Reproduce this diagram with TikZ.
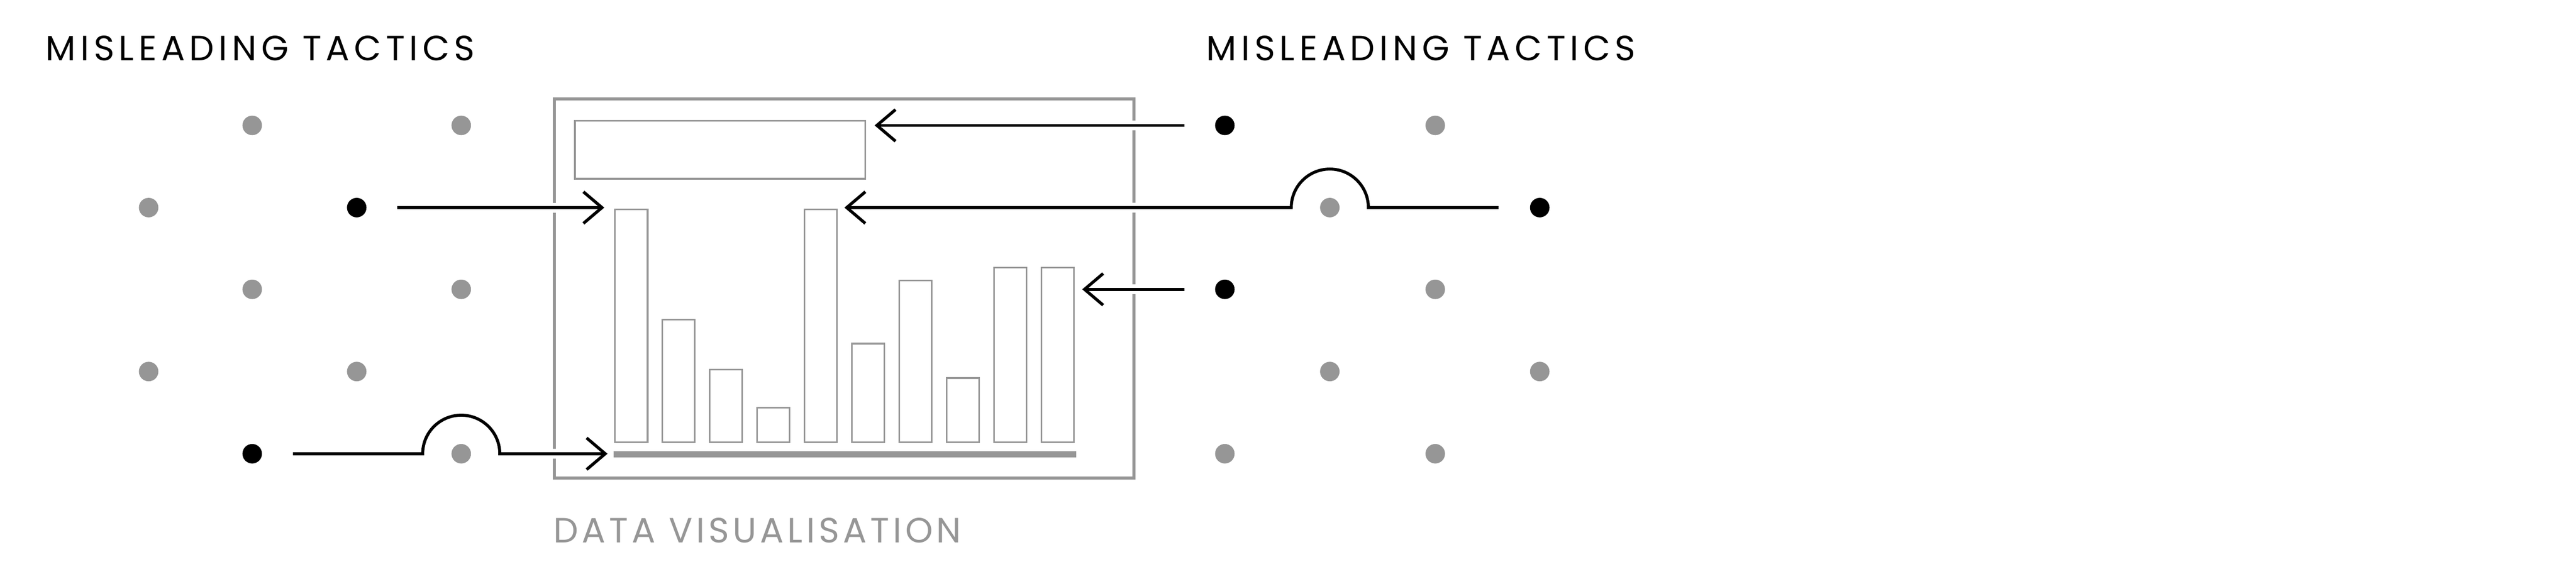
\documentclass[tikz,border=0pt]{standalone}
\usepackage{fontspec}
\setmainfont{Poppins}
\usetikzlibrary{arrows.meta,calc}
\definecolor{midgray}{RGB}{150,150,150}
\tikzset{
  dot/.style={circle, fill=black, inner sep=0pt, minimum size=0.42cm},
  gdot/.style={dot, fill=midgray},
  bar/.style={draw=midgray, line width=1.1pt, inner sep=0pt, minimum width=0.7cm, anchor=south},
  link/.style={line width=1.85pt, -{Straight Barb[length=0.4cm, width=0.68cm, line width=1.85pt]},
    preaction={draw=white, line width=6pt, -}},
  tactics/.style={anchor=base west, inner sep=0pt, font=\fontsize{21.5pt}{24pt}\selectfont\addfontfeature{LetterSpace=13}}
}

\begin{document}
\begin{tikzpicture}[x=1cm, y=-1cm]
  \useasboundingbox (0,0) rectangle (55.46,12.46);

  \node[tactics] (lefttitle) at (0.98,1.30) {MISLEADING TACTICS};
  \node[tactics] (righttitle) at (25.97,1.30) {MISLEADING TACTICS};

  \node[draw=midgray, line width=1.85pt, inner sep=0pt, minimum width=12.485cm, minimum height=8.165cm] (frame) at (18.175,6.2125) {};
  \node[draw=midgray, line width=1.1pt, inner sep=0pt, minimum width=6.25cm, minimum height=1.25cm] (hdbox) at (15.505,3.225) {};
  \foreach \h [count=\i] in {5.01,2.64,1.56,0.74,5.01,2.12,3.48,1.38,3.76,3.76}
    \node[bar, minimum height=\h cm] (bar\i) at ({13.59+(\i-1)*1.02},9.54) {};
  \coordinate (ax0) at (13.21,9.78);
  \coordinate (ax1) at (23.17,9.78);
  \draw[midgray, line width=3.7pt] (ax0) -- (ax1);
  \node[tactics, text=midgray, font=\fontsize{21.5pt}{24pt}\selectfont\addfontfeature{LetterSpace=10.5}] (dvlabel) at (11.91,11.68) {DATA VISUALISATION};

  \foreach \n/\x/\y in {L1b/5.43/2.70, L1d/9.93/2.70, L2a/3.20/4.47, L3b/5.43/6.23, L3d/9.93/6.23,
      L4a/3.20/8.00, L4c/7.68/8.00, L5d/9.93/9.77,
      R1c/30.90/2.70, R2b/28.63/4.47, R3c/30.90/6.23, R4b/28.63/8.00, R4d/33.15/8.00,
      R5a/26.37/9.77, R5c/30.90/9.77}
    \node[gdot] (\n) at (\x,\y) {};
  \foreach \n/\x/\y in {L2c/7.68/4.47, L5b/5.43/9.77, R1a/26.37/2.70, R2d/33.15/4.47, R3a/26.37/6.23}
    \node[dot] (\n) at (\x,\y) {};

  \draw[link, shorten <=0.66cm, shorten >=0.21cm] (L2c) -- (L2c -| bar1.west);
  \draw[link, shorten <=0.66cm, shorten >=0.13cm] (L5b) -- ($(L5d)+(-0.83,0)$)
    arc[start angle=180, end angle=0, radius=0.83cm] -- (L5b -| ax0);
  \draw[link, shorten <=0.65cm, shorten >=0.18cm] (R1a) -- (R1a -| hdbox.east);
  \draw[link, shorten <=0.67cm, shorten >=0.14cm] (R2d) -- ($(R2b)+(0.83,0)$)
    arc[start angle=0, end angle=180, radius=0.83cm] -- (R2d -| bar5.east);
  \draw[link, shorten <=0.65cm, shorten >=0.16cm] (R3a) -- (R3a -| bar10.east);
\end{tikzpicture}
\end{document}
